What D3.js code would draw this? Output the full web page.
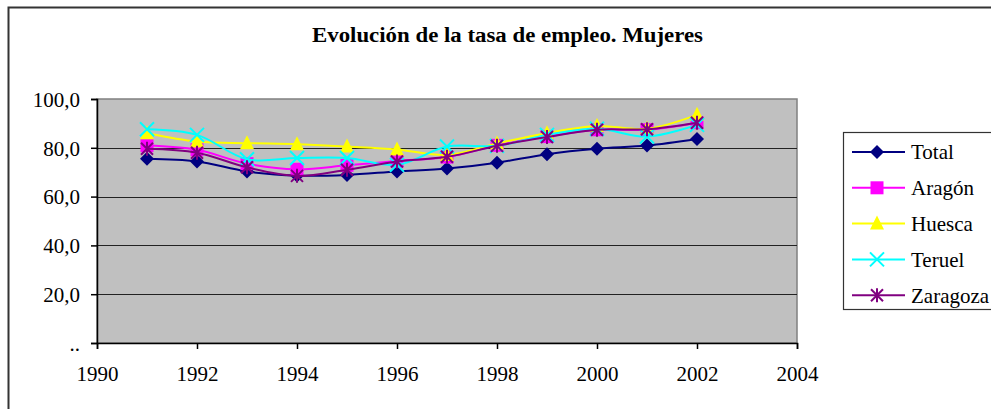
<!DOCTYPE html>
<html>
<head>
<meta charset="utf-8">
<script src="https://cdn.jsdelivr.net/npm/d3@7"></script>
<style>
  body { margin: 0; background: #fff; }
</style>
</head>
<body>
<div id="chart"></div>
<script>
// chart values
const years = [1991, 1992, 1993, 1994, 1995, 1996, 1997, 1998, 1999, 2000, 2001, 2002]
const total = [75.5, 74.4, 70.3, 68.6, 68.9, 70.3, 71.5, 73.9, 77.4, 79.6, 80.9, 83.6]
const aragon = [80.9, 79.2, 73.5, 71.2, 72.8, 74.6, 76.2, 81.0, 84.6, 87.4, 87.4, 90.3]
const huesca = [86.0, 82.6, 81.9, 81.5, 80.5, 79.3, 77.1, 81.8, 86.0, 88.9, 87.8, 93.5]
const teruel = [87.6, 85.3, 75.3, 75.8, 75.8, 73.0, 80.5, 80.8, 85.3, 87.8, 84.6, 89.4]
const zaragoza = [79.6, 78.0, 72.0, 68.5, 71.0, 74.4, 76.3, 80.8, 84.4, 87.4, 87.6, 90.3]
const seriesNames = ['Total', 'Aragón', 'Huesca', 'Teruel', 'Zaragoza']
const xTicks = [1990, 1992, 1994, 1996, 1998, 2000, 2002, 2004]
const yTicks = [0, 20, 40, 60, 80, 100]

const series = [
  { name: seriesNames[0], values: total, color: '#000080', marker: 'diamond' },
  { name: seriesNames[1], values: aragon, color: '#ff00ff', marker: 'square' },
  { name: seriesNames[2], values: huesca, color: '#ffff00', marker: 'triangle' },
  { name: seriesNames[3], values: teruel, color: '#00ffff', marker: 'cross' },
  { name: seriesNames[4], values: zaragoza, color: '#800080', marker: 'star' }
]

const width = 991
const height = 409
const plot = { left: 97, right: 797, top: 99, bottom: 343 }
const serif = '"Liberation Serif", "Times New Roman", serif'

const svg = d3.select('#chart').append('svg')
  .attr('width', width)
  .attr('height', height)
  .style('display', 'block')
  .style('font-family', serif)

// outer chart border (cut off at the right and bottom)
svg.append('path')
  .attr('d', 'M8.5,' + (height + 2) + 'V7.5H' + (width + 2))
  .attr('fill', 'none')
  .attr('stroke', '#333')
  .attr('stroke-width', 2)

svg.append('text')
  .text('Evolución de la tasa de empleo. Mujeres')
  .attr('x', 312)
  .attr('y', 42)
  .attr('textLength', 391)
  .attr('lengthAdjust', 'spacingAndGlyphs')
  .attr('font-weight', 'bold')
  .attr('font-size', 20)

const x = d3.scaleLinear().domain([1990, 2004]).range([plot.left, plot.right])
const y = d3.scaleLinear().domain([0, 100]).range([plot.bottom, plot.top])

// plot area
svg.append('rect')
  .attr('x', plot.left)
  .attr('y', plot.top)
  .attr('width', plot.right - plot.left)
  .attr('height', plot.bottom - plot.top)
  .attr('fill', '#c0c0c0')
  .attr('stroke', '#808080')
  .attr('stroke-width', 1.5)

svg.append('g')
  .selectAll('line')
  .data(yTicks.filter(d => d > 0 && d < 100))
  .join('line')
  .attr('x1', plot.left)
  .attr('x2', plot.right)
  .attr('y1', d => Math.round(y(d)) + 0.5)
  .attr('y2', d => Math.round(y(d)) + 0.5)
  .attr('stroke', '#222')
  .attr('stroke-width', 1.2)

const yAxis = svg.append('g')
  .attr('transform', 'translate(' + plot.left + ',0)')
  .call(d3.axisLeft(y).tickValues(yTicks).tickSize(6).tickPadding(11)
    .tickFormat(d => d === 0 ? '..' : d3.format('.1f')(d).replace('.', ',')))
const xAxis = svg.append('g')
  .attr('transform', 'translate(0,' + plot.bottom + ')')
  .call(d3.axisBottom(x).tickValues(xTicks).tickSize(6).tickPadding(17).tickFormat(d3.format('d')))

for (const axis of [yAxis, xAxis]) {
  axis.attr('font-family', null).attr('font-size', null)
  axis.select('.domain').attr('stroke', '#000').attr('stroke-width', 1.5)
  axis.selectAll('.tick line').attr('stroke', '#000').attr('stroke-width', 1.5)
  axis.selectAll('.tick text')
    .attr('fill', '#000')
    .attr('font-size', 21)
}
yAxis.selectAll('.tick text').attr('dy', '0.35em')

/**
 * Draws one marker centred on 0,0.
 */
function drawMarker (g, kind, color) {
  if (kind === 'diamond') {
    g.append('path').attr('d', 'M0,-7L7,0L0,7L-7,0Z').attr('fill', color)
  } else if (kind === 'square') {
    g.append('rect').attr('x', -6.5).attr('y', -6.5).attr('width', 13).attr('height', 13).attr('fill', color)
  } else if (kind === 'triangle') {
    g.append('path').attr('d', 'M0,-8L7,6L-7,6Z').attr('fill', color)
  } else if (kind === 'cross') {
    g.append('path').attr('d', 'M-7,-7L7,7M7,-7L-7,7').attr('stroke', color).attr('stroke-width', 2)
  } else {
    g.append('path').attr('d', 'M-6,-6L6,6M6,-6L-6,6M0,-7V7').attr('stroke', color).attr('stroke-width', 2)
  }
}

const line = d3.line()
  .x((d, i) => x(years[i]))
  .y(d => y(d))
  .curve(d3.curveCatmullRom.alpha(0.5))

for (const s of series) {
  svg.append('path')
    .datum(s.values)
    .attr('d', line)
    .attr('fill', 'none')
    .attr('stroke', s.color)
    .attr('stroke-width', 2)
  s.values.forEach((v, i) => {
    const g = svg.append('g').attr('transform', 'translate(' + x(years[i]) + ',' + y(v) + ')')
    drawMarker(g, s.marker, s.color)
  })
}

// legend
const legend = svg.append('g')
legend.append('rect')
  .attr('x', 843.5)
  .attr('y', 132.5)
  .attr('width', 160)
  .attr('height', 177)
  .attr('fill', '#fff')
  .attr('stroke', '#333')
  .attr('stroke-width', 1.2)

series.forEach((s, i) => {
  const ly = 152 + i * 35.8
  legend.append('line')
    .attr('x1', 852).attr('x2', 905)
    .attr('y1', ly).attr('y2', ly)
    .attr('stroke', s.color)
    .attr('stroke-width', 2)
  drawMarker(legend.append('g').attr('transform', 'translate(877,' + ly + ')'), s.marker, s.color)
  legend.append('text')
    .text(s.name)
    .attr('x', 911)
    .attr('y', ly)
    .attr('dy', '0.35em')
    .attr('font-size', 21)
})
</script>
</body>
</html>
